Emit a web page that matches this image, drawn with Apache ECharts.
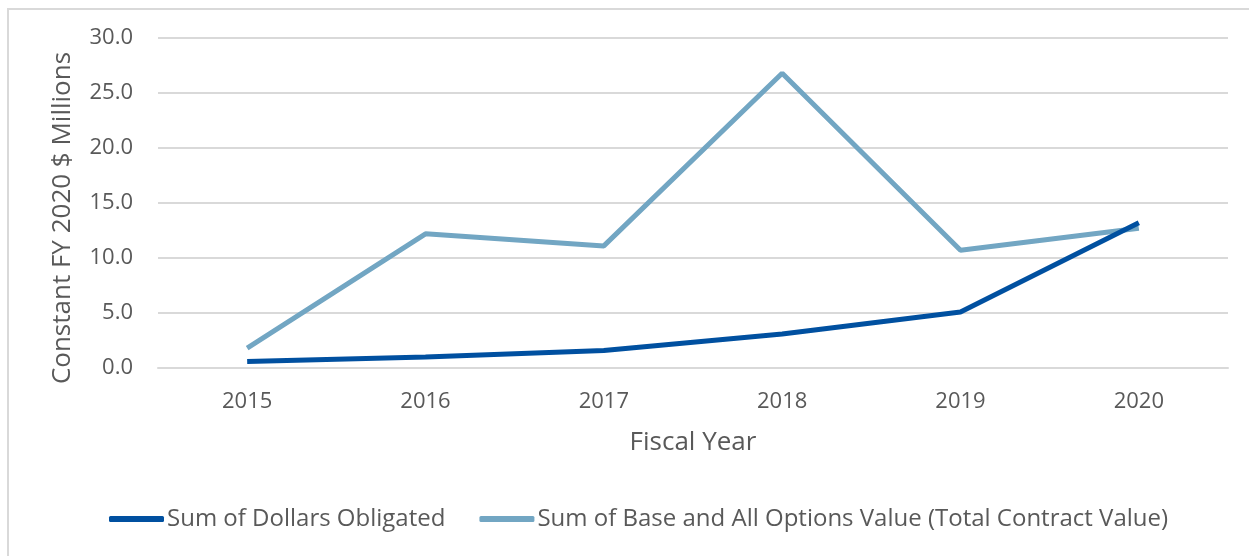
<!DOCTYPE html>
<html>
<head>
    <meta charset="UTF-8">
    <script src="https://cdn.jsdelivr.net/npm/echarts@6/dist/echarts.min.js"></script>
    <style>
    html, body {
        margin: 0;
        padding: 0;
        background: #fff;
    }
    #chart {
        width: 1249px;
        height: 556px;
    }
    </style>
</head>
<body>
    <div id="chart"></div>
    <script>
    // 数据
    var years = ['2015', '2016', '2017', '2018', '2019', '2020'];
    var dollarsObligated = [0.6, 1.0, 1.6, 3.1, 5.1, 13.2];
    var totalContractValue = [1.8, 12.2, 11.1, 26.8, 10.7, 12.7];
    var seriesNames = ['Sum of Dollars Obligated', 'Sum of Base and All Options Value (Total Contract Value)'];

    var textColor = '#595959';
    var fontName = '"Open Sans", "Noto Sans", sans-serif';

    var myChart = echarts.init(document.getElementById('chart'));
    var option = {
        animation: false,
        color: ['#0050a0', '#72a6c3'],
        textStyle: { fontFamily: fontName },
        graphic: [{
            type: 'rect',
            shape: { x: 8, y: 9, width: 1270, height: 580 },
            style: { fill: 'none', stroke: '#d9d9d9', lineWidth: 2 }
        }],
        grid: {
            left: 158,
            right: 21,
            top: 38,
            bottom: 188
        },
        legend: {
            data: seriesNames,
            bottom: 20,
            left: 104,
            itemWidth: 55,
            itemHeight: 6,
            itemGap: 34,
            icon: 'roundRect',
            textStyle: { color: textColor, fontSize: 24, fontFamily: fontName, padding: [0, 0, 0, -2] }
        },
        xAxis: {
            type: 'category',
            data: years,
            name: 'Fiscal Year',
            nameLocation: 'middle',
            nameGap: 62,
            nameTextStyle: { color: textColor, fontSize: 26 },
            axisLine: { lineStyle: { color: '#d9d9d9', width: 2 } },
            axisTick: { show: false },
            axisLabel: { color: textColor, fontSize: 22, margin: 23 }
        },
        yAxis: {
            type: 'value',
            min: 0,
            max: 30,
            interval: 5,
            name: 'Constant FY 2020 $ Millions',
            nameLocation: 'middle',
            nameGap: 82,
            nameTextStyle: { color: textColor, fontSize: 26, padding: [0, 30, 0, 0] },
            axisLine: { show: false },
            axisTick: { show: false },
            axisLabel: {
                color: textColor,
                fontSize: 22,
                margin: 25,
                formatter: function (v) { return v.toFixed(1); }
            },
            splitLine: { lineStyle: { color: '#d9d9d9', width: 2 } }
        },
        series: [{
            name: seriesNames[0],
            type: 'line',
            data: dollarsObligated,
            symbol: 'none',
            lineStyle: { width: 5 },
            z: 3
        }, {
            name: seriesNames[1],
            type: 'line',
            data: totalContractValue,
            symbol: 'none',
            lineStyle: { width: 5 },
            z: 2
        }]
    };
    myChart.setOption(option);
    </script>
</body>
</html>
